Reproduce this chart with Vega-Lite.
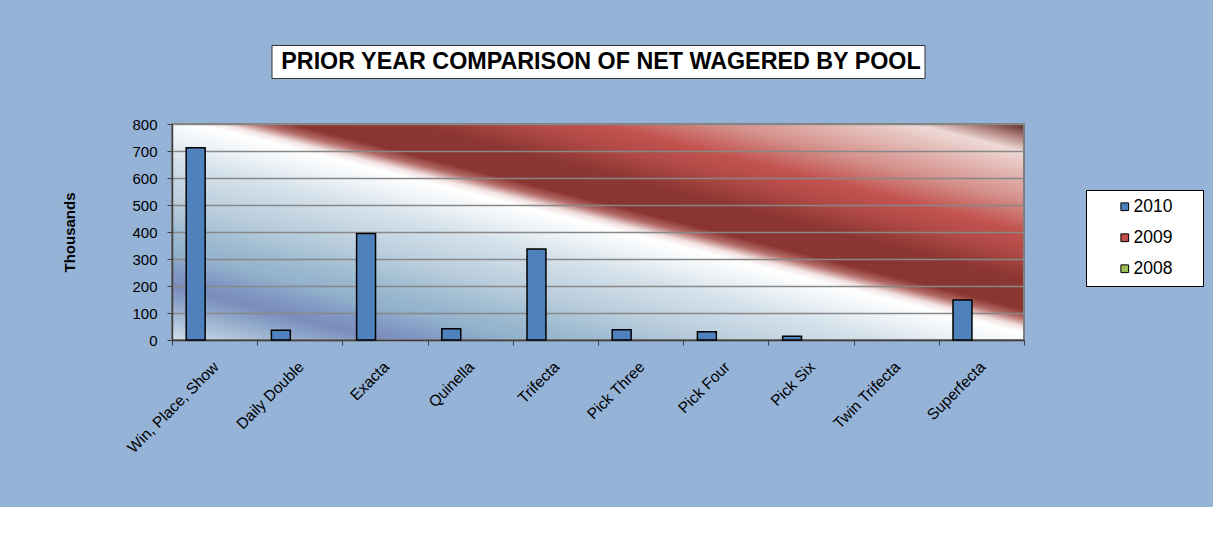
{
  "$schema": "https://vega.github.io/schema/vega-lite/v6.json",
  "background": "#95B3D7",
  "padding": {"left": 61, "top": 44, "right": 9, "bottom": 50},
  "config": {"font": "Liberation Sans", "view": {"stroke": null}},
  "spacing": 46,
  "center": true,
  "bounds": "flush",
  "vconcat": [
    {
      "width": 653,
      "height": 33,
      "view": {"fill": "white", "stroke": "#333333", "strokeWidth": 1},
      "data": {"values": [{"t": "PRIOR YEAR COMPARISON OF NET WAGERED BY POOL"}]},
      "mark": {"type": "text", "fontSize": 23.3, "fontWeight": "bold", "color": "black", "align": "center", "baseline": "middle", "dx": 3},
      "encoding": {"text": {"field": "t", "type": "nominal"}}
    },
    {
      "width": 852,
      "height": 216,
      "view": {
        "stroke": "#808080",
        "strokeWidth": 2,
        "fill": {
          "gradient": "linear",
          "x1": 0, "y1": 1, "x2": 1, "y2": 0,
          "stops": [
            {"offset": 0.0, "color": "#D4E1EC"},
            {"offset": 0.04, "color": "#B0C4DA"},
            {"offset": 0.09, "color": "#8CA4C8"},
            {"offset": 0.125, "color": "#7B8DBC"},
            {"offset": 0.16, "color": "#8299C4"},
            {"offset": 0.2, "color": "#91B0CB"},
            {"offset": 0.25, "color": "#9CBAD0"},
            {"offset": 0.32, "color": "#B9CDDC"},
            {"offset": 0.42, "color": "#D6E2EB"},
            {"offset": 0.47, "color": "#EEF3F7"},
            {"offset": 0.515, "color": "#FFFFFF"},
            {"offset": 0.53, "color": "#F2E2E1"},
            {"offset": 0.55, "color": "#B46C69"},
            {"offset": 0.57, "color": "#8B3531"},
            {"offset": 0.64, "color": "#8C3632"},
            {"offset": 0.70, "color": "#B04A46"},
            {"offset": 0.75, "color": "#C2524E"},
            {"offset": 0.82, "color": "#D48F8A"},
            {"offset": 0.90, "color": "#E6C2BE"},
            {"offset": 0.935, "color": "#EEDAD6"},
            {"offset": 0.965, "color": "#B38783"},
            {"offset": 1.0, "color": "#5A2622"}
          ]
        }
      },
      "data": {
        "values": [
          {"pool": "Win, Place, Show", "year": "2010", "value": 712},
          {"pool": "Daily Double", "year": "2010", "value": 36},
          {"pool": "Exacta", "year": "2010", "value": 394},
          {"pool": "Quinella", "year": "2010", "value": 42},
          {"pool": "Trifecta", "year": "2010", "value": 337},
          {"pool": "Pick Three", "year": "2010", "value": 38},
          {"pool": "Pick Four", "year": "2010", "value": 31},
          {"pool": "Pick Six", "year": "2010", "value": 14},
          {"pool": "Superfecta", "year": "2010", "value": 148}
        ]
      },
      "mark": {"type": "bar", "stroke": "black", "strokeWidth": 1.5},
      "encoding": {
        "x": {
          "field": "pool",
          "type": "nominal",
          "sort": null,
          "scale": {
            "domain": ["Win, Place, Show", "Daily Double", "Exacta", "Quinella", "Trifecta", "Pick Three", "Pick Four", "Pick Six", "Twin Trifecta", "Superfecta"],
            "paddingInner": 0,
            "paddingOuter": 0
          },
          "axis": {
            "title": null,
            "labelAngle": -45,
            "labelFontSize": 15.5,
            "labelColor": "black",
            "labelPadding": 14,
            "labelOffset": -4,
            "tickBand": "extent",
            "tickSize": 5,
            "tickColor": "#404040",
            "domainColor": "#404040",
            "domainWidth": 1.5,
            "grid": false
          }
        },
        "xOffset": {
          "field": "year",
          "type": "nominal",
          "scale": {"domain": ["2010", "2009", "2008"], "paddingInner": 0, "paddingOuter": 0.75}
        },
        "y": {
          "field": "value",
          "type": "quantitative",
          "scale": {"domain": [0, 800]},
          "axis": {
            "title": "Thousands",
            "titleFontSize": 15,
            "titleFontWeight": "bold",
            "titleColor": "black",
            "titlePadding": 54,
            "values": [0, 100, 200, 300, 400, 500, 600, 700, 800],
            "labelFontSize": 15,
            "labelColor": "black",
            "labelPadding": 10,
            "tickSize": 5,
            "tickColor": "#404040",
            "domainColor": "#404040",
            "domainWidth": 1.5,
            "grid": true,
            "gridColor": "#888888",
            "gridWidth": 1.5
          }
        },
        "color": {
          "field": "year",
          "type": "nominal",
          "scale": {"domain": ["2010", "2009", "2008"], "range": ["#4F81BD", "#C0504D", "#9BBB59"]},
          "legend": {
            "title": "\u00a0",
            "titleOrient": "right",
            "titlePadding": 23,
            "titleFontSize": 17.5,
            "orient": "none",
            "legendX": 914,
            "legendY": 145,
            "fillColor": "white",
            "strokeColor": "black",
            "padding": 8,
            "symbolType": "square",
            "symbolSize": 60,
            "symbolStrokeColor": "black",
            "symbolStrokeWidth": 1,
            "symbolOffset": 22,
            "labelOffset": 0,
            "labelFontSize": 17.5,
            "labelColor": "black",
            "rowPadding": 12
          }
        }
      }
    }
  ]
}
